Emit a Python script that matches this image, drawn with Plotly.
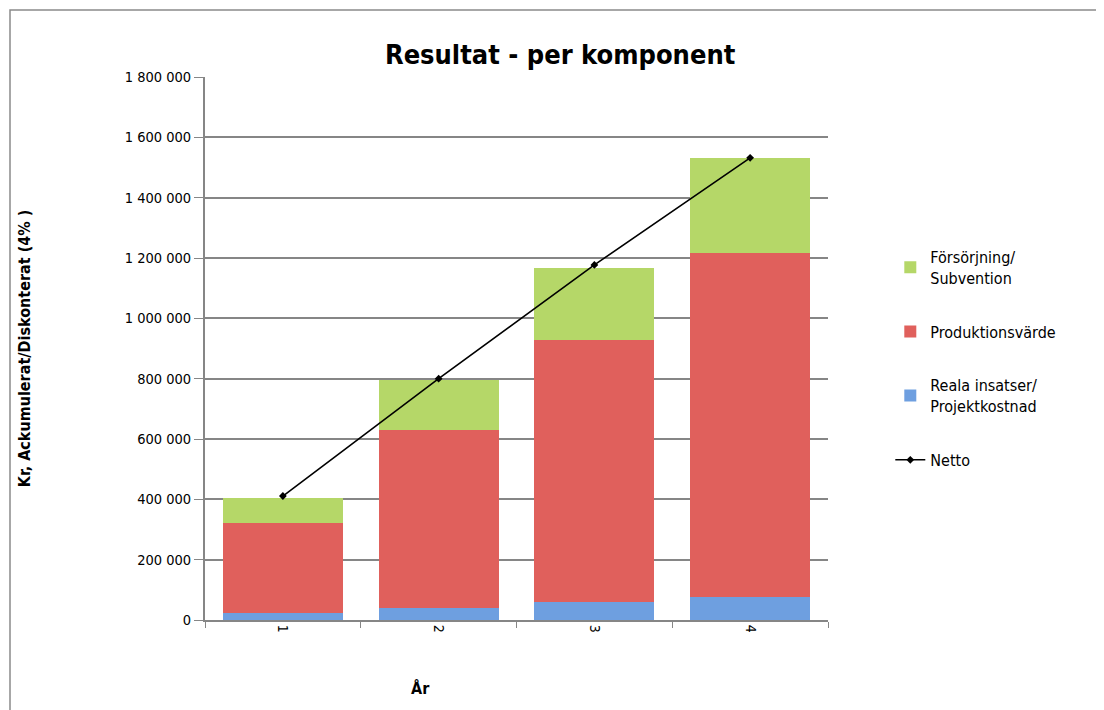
import plotly.graph_objects as go

years = ["1", "2", "3", "4"]
reala = [23000, 40000, 60000, 77000]
produktion = [299000, 590000, 869000, 1140000]
forsorjning = [83000, 166000, 239000, 315000]
netto = [411000, 800000, 1177000, 1532000]

series_names = ["Reala insatser/<br>Projektkostnad", "Produktionsvärde", "Försörjning/<br>Subvention"]
colors = ["#6E9FE0", "#E0605C", "#B5D768"]

narrow = "DejaVu Sans Condensed, Liberation Sans Narrow, sans-serif"

fig = go.Figure()
for vals, name, c, rank in zip([reala, produktion, forsorjning], series_names, colors, [3, 2, 1]):
    fig.add_trace(go.Bar(x=years, y=vals, name=name, marker=dict(color=c, line=dict(width=0)),
                         legendrank=rank, legendgroup=name))
fig.add_trace(go.Scatter(x=years, y=netto, name="Netto", mode="lines+markers",
                         line=dict(color="black", width=1.6),
                         marker=dict(symbol="diamond", size=6, color="black"),
                         legendrank=4, legendgroup="Netto"))

fig.update_layout(
    width=1104, height=710,
    barmode="stack", bargap=0.23,
    plot_bgcolor="white", paper_bgcolor="white",
    margin=dict(l=197, r=284, t=69, b=98),
    separators=", ",
    font=dict(family=narrow, color="black"),
    title=dict(text="<b>Resultat - per komponent</b>", font=dict(family=narrow, size=27, color="black"),
               xref="paper", x=0.57, xanchor="center", yref="container", y=1 - 47 / 710, yanchor="middle"),
    legend=dict(x=1.10, y=0.70, xanchor="left", yanchor="top", font=dict(family=narrow, size=16),
                tracegroupgap=30, itemwidth=30, bgcolor="rgba(0,0,0,0)"),
    xaxis=dict(type="category", tickangle=90, tickson="boundaries", ticks="outside", ticklen=6,
               tickcolor="#868686", showline=True, linecolor="#868686", linewidth=2,
               tickfont=dict(family=narrow, size=14), showgrid=False, automargin=False),
    yaxis=dict(range=[0, 1800000], dtick=200000, tickformat=",d", ticks="outside", ticklen=9,
               tickcolor="#868686", showline=True, linecolor="#868686", linewidth=2,
               showgrid=True, gridcolor="#868686", gridwidth=2,
               tickfont=dict(family=narrow, size=14.5), automargin=False,
               title=dict(text="<b>Kr, Ackumulerat/Diskonterat (4% )</b>", font=dict(family=narrow, size=16),
                          standoff=90)),
)

fig.add_annotation(text="<b>År</b>", xref="paper", yref="paper", x=(420 - 205) / 623, y=-(688 - 620) / 543,
                   showarrow=False, font=dict(family=narrow, size=16), xanchor="center", yanchor="middle")

fig.add_shape(type="rect", xref="paper", yref="paper",
              x0=(10 - 205) / 623, x1=1.6, y0=-0.3, y1=(620 - 10) / 543,
              line=dict(color="#8A8A8A", width=1.5), fillcolor="rgba(0,0,0,0)", layer="below")

fig.write_html("out.html")
